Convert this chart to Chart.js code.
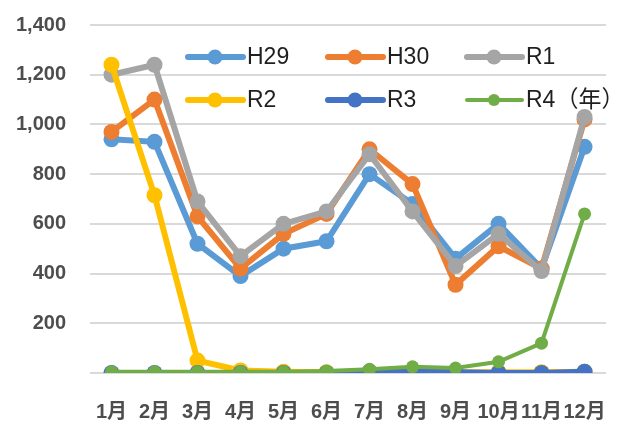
<!DOCTYPE html>
<html lang="ja">
<head>
    <meta charset="UTF-8">
    <title>月別推移</title>
    <script src="https://cdn.jsdelivr.net/npm/chart.js"></script>
    <style>
        body {
            margin: 0;
            padding: 0;
            background: #ffffff;
        }
        .chart-box {
            width: 633px;
            height: 425px;
            position: relative;
        }
    </style>
</head>
<body>
    <div class="chart-box">
        <canvas id="monthly"></canvas>
    </div>

    <script>
        // data
        var months = ['1月', '2月', '3月', '4月', '5月', '6月', '7月', '8月', '9月', '10月', '11月', '12月'];
        var seriesNames = ['H29', 'H30', 'R1', 'R2', 'R3', 'R4（年）'];
        var h29 = [940, 930, 520, 390, 500, 530, 800, 680, 460, 600, 420, 910];
        var h30 = [970, 1100, 630, 420, 560, 640, 900, 760, 355, 510, 420, 1020];
        var r1 = [1200, 1240, 690, 470, 600, 650, 880, 650, 430, 560, 410, 1030];
        var r2 = [1240, 715, 50, 10, 5, 3, 5, 5, 3, 3, 3, 5];
        var r3 = [0, 0, 0, 0, 0, 0, 5, 5, 3, 0, 0, 5];
        var r4 = [5, 5, 5, 5, 5, 8, 15, 25, 20, 45, 120, 640];
        var yTicks = [0, 200, 400, 600, 800, 1000, 1200, 1400];

        var colors = ['#5B9BD5', '#ED7D31', '#A5A5A5', '#FFC000', '#4472C4', '#70AD47'];
        var allValues = [h29, h30, r1, r2, r3, r4];

        var datasets = allValues.map(function (vals, i) {
            var thin = i === 5;
            return {
                label: seriesNames[i],
                data: vals,
                borderColor: colors[i],
                backgroundColor: colors[i],
                borderWidth: thin ? 4 : 6,
                pointRadius: thin ? 6.5 : 8,
                pointBorderWidth: 0,
                pointBackgroundColor: colors[i],
                tension: 0,
                order: 5 - i
            };
        });

        // legend drawn inside the plot, 3 columns x 2 rows
        var insideLegend = {
            id: 'insideLegend',
            afterDatasetsDraw: function (chart) {
                var ctx = chart.ctx;
                var colX = [188, 328, 467];
                var rowY = [57, 100];
                ctx.save();
                chart.data.datasets.forEach(function (ds, i) {
                    var x = colX[i % 3];
                    var y = rowY[Math.floor(i / 3)];
                    var thin = i === 5;
                    ctx.strokeStyle = ds.borderColor;
                    ctx.lineWidth = thin ? 4 : 6;
                    ctx.lineCap = 'round';
                    ctx.beginPath();
                    ctx.moveTo(x, y);
                    ctx.lineTo(x + 55, y);
                    ctx.stroke();
                    ctx.fillStyle = ds.borderColor;
                    ctx.beginPath();
                    ctx.arc(x + 27, y, thin ? 6 : 7.5, 0, Math.PI * 2);
                    ctx.fill();
                    ctx.fillStyle = '#1f1f1f';
                    ctx.font = '23px "Liberation Sans", Arial, "Noto Sans CJK JP", sans-serif';
                    ctx.textBaseline = 'middle';
                    ctx.textAlign = 'left';
                    ctx.fillText(ds.label, x + 59, y + 1);
                });
                ctx.restore();
            }
        };

        var ctx = document.getElementById('monthly').getContext('2d');
        var monthlyChart = new Chart(ctx, {
            type: 'line',
            data: {
                labels: months,
                datasets: datasets
            },
            options: {
                responsive: true,
                maintainAspectRatio: false,
                animation: false,
                layout: {
                    padding: { left: 0, right: 5, top: 25, bottom: 0 }
                },
                plugins: {
                    legend: { display: false },
                    tooltip: { enabled: false }
                },
                scales: {
                    x: {
                        offset: true,
                        grid: { display: false, drawTicks: false },
                        border: { display: false },
                        ticks: {
                            color: '#4d4d4d',
                            font: { family: '"Liberation Sans", "Noto Sans CJK JP", sans-serif', size: 20, weight: 'bold' },
                            padding: 27,
                            maxRotation: 0,
                            autoSkip: false
                        },
                        afterFit: function (scale) { scale.height = 52; }
                    },
                    y: {
                        min: 0,
                        max: 1400,
                        afterBuildTicks: function (scale) {
                            scale.ticks = yTicks.map(function (v) { return { value: v }; });
                        },
                        grid: { color: '#D9D9D9', lineWidth: 2, drawTicks: false },
                        border: { display: false },
                        ticks: {
                            color: '#4d4d4d',
                            font: { family: '"Liberation Sans", sans-serif', size: 20, weight: 'bold' },
                            padding: 24,
                            callback: function (v) { return v === 0 ? '' : v.toLocaleString('en-US'); }
                        },
                        afterFit: function (scale) {
                            scale.width = 90;
                            scale.paddingTop = 0;
                            scale.paddingBottom = 0;
                        }
                    }
                }
            },
            plugins: [insideLegend]
        });
    </script>
</body>
</html>
